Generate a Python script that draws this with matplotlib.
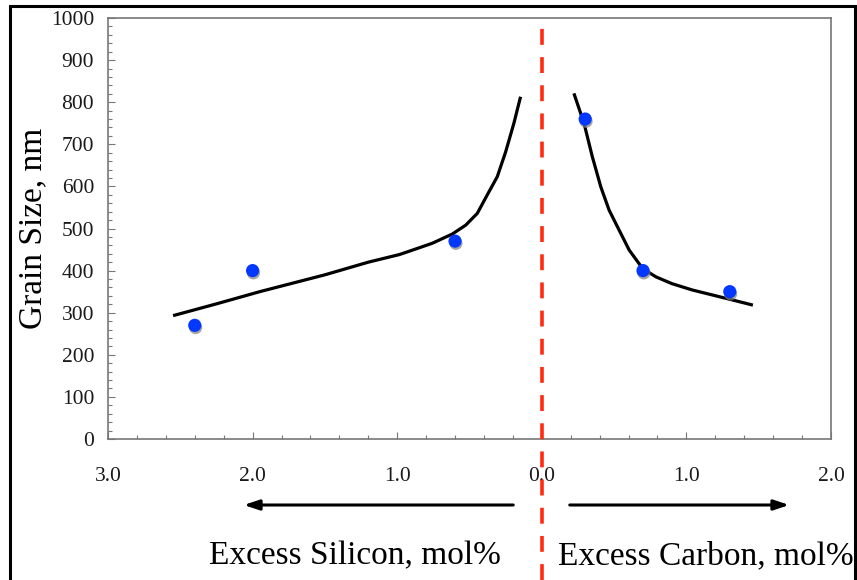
import matplotlib.pyplot as plt
import matplotlib.patheffects as pe
from matplotlib.patches import Rectangle
from matplotlib.ticker import MultipleLocator

# measured grain sizes (negative x = excess silicon, positive x = excess carbon)
pts_x = [-2.4, -2.0, -0.6, 0.3, 0.7, 1.3]
pts_y = [270, 400, 470, 760, 400, 350]

# trend curves
si_x = [-2.55, -2.25, -1.95, -1.5, -1.20, -0.986, -0.917, -0.757, -0.618, -0.526, -0.446, -0.377, -0.308, -0.25, -0.193, -0.147]
si_y = [293, 321, 350, 390, 420, 438, 446, 465, 487, 508, 536, 580, 623, 682, 750, 813]
c_x = [0.222, 0.292, 0.349, 0.408, 0.465, 0.535, 0.604, 0.697, 0.79, 0.9, 1.04, 1.275, 1.46]
c_y = [821, 750, 671, 599, 544, 496, 449, 405, 385, 369, 354, 334, 318]

xticks = [-3, -2, -1, 0, 1, 2]
xticklabels = ['3.0', '2.0', '1.0', '0.0', '1.0', '2.0']

plt.rcParams['font.family'] = 'Liberation Serif'

fig = plt.figure(figsize=(8.57, 5.8), dpi=100)
ax = fig.add_axes([108/857, 141/580, 723/857, 421/580])

ax.plot(si_x, si_y, color='black', lw=2.3, solid_capstyle='butt', solid_joinstyle='round')
ax.plot(c_x, c_y, color='black', lw=2.3, solid_capstyle='butt', solid_joinstyle='round')
ax.plot(pts_x, pts_y, 'o', color='#0538ff', ms=9.5, mew=0, zorder=5,
        path_effects=[pe.SimplePatchShadow(offset=(0.6, -1.6), shadow_rgbFace='gray', alpha=0.7), pe.Normal()])

ax.axvline(0, ymin=-0.335, ymax=1, color='#ff2a10', lw=2.6, dashes=(4.4, 3.4), clip_on=False, zorder=6)

ax.set_xlim(-3, 2)
ax.set_ylim(0, 1000)
ax.set_xticks(xticks)
ax.set_xticklabels(xticklabels)
ax.xaxis.set_minor_locator(MultipleLocator(0.2))
ax.yaxis.set_major_locator(MultipleLocator(100))
ax.yaxis.set_minor_locator(MultipleLocator(20))
ax.tick_params(axis='x', which='both', direction='in', pad=20, labelsize=15.5, colors='#777777', labelcolor='#1a1a1a')
ax.tick_params(axis='y', which='both', direction='in', pad=10, labelsize=15.5, colors='#777777', labelcolor='#1a1a1a')
ax.tick_params(which='major', length=5, width=0.8)
ax.tick_params(which='minor', length=3, width=0.8)
for s in ax.spines.values():
    s.set_color('#777777')
    s.set_linewidth(1.2)

ax.set_ylabel('Grain Size, nm', fontsize=24)
ax.yaxis.set_label_coords(-0.082, 0.5)

fig.add_artist(Rectangle((10/857, -0.1), 845/857, 1.1 - 6/580, transform=fig.transFigure,
                         fill=False, edgecolor='black', lw=2.2))

ax.annotate('', xy=(241, 75), xytext=(516, 75), xycoords='figure pixels', textcoords='figure pixels',
            arrowprops=dict(arrowstyle='-|>,head_length=0.9,head_width=0.3', color='black', lw=2.2))
ax.annotate('', xy=(792, 75), xytext=(567, 75), xycoords='figure pixels', textcoords='figure pixels',
            arrowprops=dict(arrowstyle='-|>,head_length=0.9,head_width=0.3', color='black', lw=2.2))

fig.text(355/857, 16/580, 'Excess Silicon, mol%', fontsize=24, ha='center', va='baseline')
fig.text(706/857, 16/580, 'Excess Carbon, mol%', fontsize=24, ha='center', va='baseline')

fig.savefig('out.png', dpi=100)
